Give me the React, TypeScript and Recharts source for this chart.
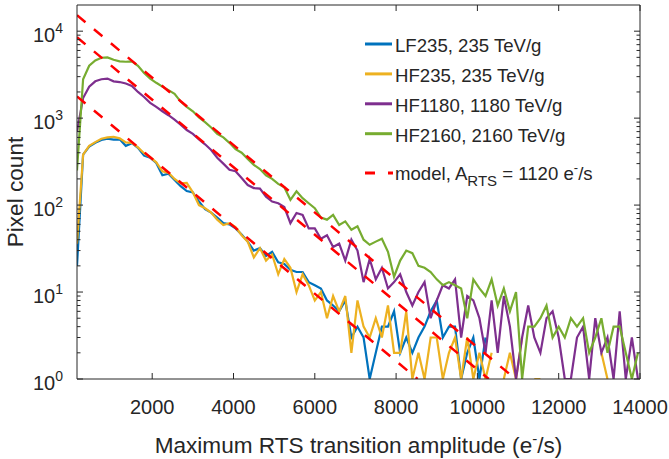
import React from 'react';
import { LineChart, Line, XAxis, YAxis } from 'recharts';

const W = 669;
const H = 459;
const AXIS = '#262626';
const FONT = '"Liberation Sans", Arial, Helvetica, sans-serif';

// histogram bin centres (e-/s)
const bins = [
  150, 300, 450, 600, 750, 900, 1050, 1200, 1350, 1500,
  1650, 1800, 1950, 2100, 2250, 2400, 2550, 2700, 2850, 3000,
  3150, 3300, 3450, 3600, 3750, 3900, 4050, 4200, 4350, 4500,
  4650, 4800, 4950, 5100, 5250, 5400, 5550, 5700, 5850, 6000,
  6150, 6300, 6450, 6600, 6750, 6900, 7050, 7200, 7350, 7500,
  7650, 7800, 7950, 8100, 8250, 8400, 8550, 8700, 8850, 9000,
  9150, 9300, 9450, 9600, 9750, 9900, 10050, 10200, 10350, 10500,
  10650, 10800, 10950, 11100, 11250, 11400, 11550, 11700, 11850, 12000,
  12150, 12300, 12450, 12600, 12750, 12900, 13050, 13200, 13350, 13500,
  13650, 13800, 13950,
];

// pixel counts (null = empty bin)
const lf235 = [
  20, 380, 470, 520, 560, 580, 565, 570, 480, 515,
  455, 370, 350, 305, 220, 230, 195, 165, 145, 140,
  110, 90, 82, 72, 62, 60, 54, 46, 38, 30,
  32, 26, 29, 22, 21, 18, 17, 17, 13, 12,
  11, 8, 7, 6, 8, 3, 4, 3, 1, 2,
  4, 4, 6, 2, 3, 2, 3, 4, 6, 8,
  3, 4, 4, 1, 2, 3, 1, 3, null, null,
  null, null, null, null, null, null, null, null, null, null,
  null, null, null, null, null, null, null, null, null, null,
  null, null, null,
];

const hf235 = [
  36, 380, 480, 530, 580, 600, 610, 585, 525, 520,
  460, 395, 355, 310, 245, 235, 200, 178, 180, 140,
  100, 92, 82, 68, 59, 62, 56, 45, 38, 25,
  32, 23, 27, 16, 24, 19, 10, 16, 12, 8,
  10, 5, 9, 6, 9, 2, 8, 4, 3, 5,
  3, 7, 2, 2, 6, 1, 2, 1, 3, 3,
  1, 2, 3, 1, 3, 1, 2, 1, 2, null,
  1, 2, 1, 3, null, 1, 1, null, null, null,
  null, null, null, null, null, null, 2, 1, null, null,
  null, null, null,
];

const hf1180 = [
  700, 1700, 2300, 2650, 2800, 2850, 2650, 2600, 2500, 2350,
  2000, 1750, 1500, 1350, 1200, 1080, 960, 840, 730, 660,
  570, 500, 430, 350, 300, 255, 245, 205, 170, 157,
  155, 125, 110, 105, 95, 62, 81, 77, 54, 54,
  41, 45, 33, 36, 23, 40, 30, 13, 24, 14,
  19, 11, 13, 16, 10, 7, 10, 13, 5, 8,
  12, 11, 14, 3, 9, 8, 5, 2, 8, 2,
  9, 4, 1, 3, 7, 3, 2, 5, 6, 3,
  1, 1, 3, 4, 1, 5, 2, 3, 1, 6,
  1, 3, 1,
];

const hf2160 = [
  250, 2800, 4000, 4600, 4950, 5000, 4700, 4500, 4450, 4500,
  4000, 3300, 2850, 2550, 2300, 2100, 1900, 1550, 1350, 1200,
  1020, 900, 780, 660, 600, 520, 440, 400, 340, 290,
  260, 220, 200, 175, 160, 115, 144, 120, 105, 92,
  72, 68, 77, 59, 65, 52, 57, 40, 35, 38,
  41, 29, 15, 23, 30, 28, 20, 19, 17, 14,
  12, 13, 12, 11, 5, 14, 11, 9, 14, 7,
  11, 6, 10, 1, 4, 4, 5, 7, 3, 4,
  3, 5, 4, 5, 2, 3, 5, 2, 4, 4,
  2, 1, 2,
];

// model lines (A_RTS = 1120 e-/s), start and end
const modelLow = [{ x: 150, y: 1775 }, { x: 8530, y: 1 }];
const modelMid = [{ x: 150, y: 8500 }, { x: 10280, y: 1 }];
const modelHigh = [{ x: 150, y: 15250 }, { x: 10940, y: 1 }];

const xTicks = [2000, 4000, 6000, 8000, 10000, 12000, 14000];
const decades = [1, 10, 100, 1000, 10000];
const yTicks = [
  1, 2, 3, 4, 5, 6, 7, 8, 9,
  10, 20, 30, 40, 50, 60, 70, 80, 90,
  100, 200, 300, 400, 500, 600, 700, 800, 900,
  1000, 2000, 3000, 4000, 5000, 6000, 7000, 8000, 9000,
  10000,
];

const rows = bins.map((x, i) => ({
  x,
  lf235: lf235[i],
  hf235: hf235[i],
  hf1180: hf1180[i],
  hf2160: hf2160[i],
}));

const legendItems = [
  { label: 'LF235, 235 TeV/g', color: '#0072BD' },
  { label: 'HF235, 235 TeV/g', color: '#EDB120' },
  { label: 'HF1180, 1180 TeV/g', color: '#7E2F8E' },
  { label: 'HF2160, 2160 TeV/g', color: '#77AC30' },
];

const BottomTick = (p: any) => (
  <g>
    <line x1={p.x} x2={p.x} y1={p.y} y2={p.y - 6} stroke={AXIS} strokeWidth={1} />
    <text x={p.x} y={p.y + 35} textAnchor="middle" fontSize={20} fill={AXIS} fontFamily={FONT}>
      {p.payload.value}
    </text>
  </g>
);

const TopTick = (p: any) => (
  <line x1={p.x} x2={p.x} y1={p.y} y2={p.y + 6} stroke={AXIS} strokeWidth={1} />
);

const LeftTick = (p: any) => {
  const v = p.payload.value;
  const major = decades.includes(v);
  return (
    <g>
      <line x1={p.x} x2={p.x + (major ? 6 : 3.5)} y1={p.y} y2={p.y} stroke={AXIS} strokeWidth={1} />
      {major && (
        <text y={p.y + 11} fontSize={20} fill={AXIS} fontFamily={FONT}>
          <tspan x={p.x - 44}>10</tspan>
          <tspan fontSize={14} dy={-8.7}>{Math.round(Math.log10(v))}</tspan>
        </text>
      )}
    </g>
  );
};

const RightTick = (p: any) => {
  const major = decades.includes(p.payload.value);
  return (
    <line x1={p.x} x2={p.x - (major ? 6 : 3.5)} y1={p.y} y2={p.y} stroke={AXIS} strokeWidth={1} />
  );
};

const dataLine = (key: string, color: string) => (
  <Line
    key={key}
    xAxisId="b"
    yAxisId="l"
    dataKey={key}
    type="linear"
    stroke={color}
    strokeWidth={2.2}
    dot={false}
    isAnimationActive={false}
  />
);

const modelLine = (name: string, data: { x: number; y: number }[]) => (
  <Line
    key={name}
    data={data}
    xAxisId="b"
    yAxisId="l"
    dataKey="y"
    type="linear"
    stroke="#FF0000"
    strokeWidth={2.5}
    strokeDasharray="11 11"
    dot={false}
    isAnimationActive={false}
  />
);

function Overlay() {
  return (
    <svg width={W} height={H} style={{ position: 'absolute', left: 0, top: 0, pointerEvents: 'none' }}>
      <g fontFamily={FONT} fill={AXIS}>
        {legendItems.map((it, i) => {
          const base = 52 + i * 29.9;
          return (
            <g key={it.label}>
              <line x1={365} x2={392} y1={base - 8} y2={base - 8} stroke={it.color} strokeWidth={3} />
              <text x={395} y={base} fontSize={18.6}>{it.label}</text>
            </g>
          );
        })}
        <line x1={365} x2={393} y1={173} y2={173} stroke="#FF0000" strokeWidth={3} strokeDasharray="10 13" />
        <text x={395} y={180} fontSize={18.6}>
          model, A
          <tspan fontSize={15} dy={6}>RTS</tspan>
          <tspan dy={-6}> = 1120 e</tspan>
          <tspan fontSize={13} dy={-8}>-</tspan>
          <tspan dy={8}>/s</tspan>
        </text>
        <text x={358.5} y={453} fontSize={22.6} textAnchor="middle">
          Maximum RTS transition amplitude (e
          <tspan fontSize={15} dy={-9}>-</tspan>
          <tspan dy={9}>/s)</tspan>
        </text>
        <text x={23} y={192} fontSize={22.6} textAnchor="middle" transform="rotate(-90 23 192)">
          Pixel count
        </text>
      </g>
    </svg>
  );
}

export default function App() {
  return (
    <div style={{ position: 'absolute', left: 0, top: 0, width: W, height: H, background: '#fff' }}>
      <LineChart width={W} height={H} data={rows} margin={{ top: 0, right: 0, bottom: 0, left: 0 }}>
        <XAxis
          xAxisId="b"
          dataKey="x"
          type="number"
          domain={[150, 14000]}
          allowDataOverflow
          ticks={xTicks}
          orientation="bottom"
          height={80}
          tickSize={0}
          tickMargin={0}
          tickLine={false}
          axisLine={{ stroke: AXIS }}
          tick={BottomTick}
          interval={0}
        />
        <XAxis
          xAxisId="t"
          dataKey="x"
          type="number"
          domain={[150, 14000]}
          allowDataOverflow
          ticks={xTicks}
          orientation="top"
          height={5}
          tickSize={0}
          tickMargin={0}
          tickLine={false}
          axisLine={{ stroke: AXIS }}
          tick={TopTick}
          interval={0}
        />
        <YAxis
          yAxisId="l"
          scale="log"
          type="number"
          domain={[1, 20000]}
          allowDataOverflow
          ticks={yTicks}
          width={77}
          tickSize={0}
          tickMargin={0}
          tickLine={false}
          axisLine={{ stroke: AXIS }}
          tick={LeftTick}
          interval={0}
        />
        <YAxis
          yAxisId="r"
          orientation="right"
          scale="log"
          type="number"
          domain={[1, 20000]}
          allowDataOverflow
          ticks={yTicks}
          width={29}
          tickSize={0}
          tickMargin={0}
          tickLine={false}
          axisLine={{ stroke: AXIS }}
          tick={RightTick}
          interval={0}
        />
        {dataLine('lf235', '#0072BD')}
        {dataLine('hf235', '#EDB120')}
        {dataLine('hf1180', '#7E2F8E')}
        {dataLine('hf2160', '#77AC30')}
        {modelLine('low', modelLow)}
        {modelLine('mid', modelMid)}
        {modelLine('high', modelHigh)}
      </LineChart>
      <Overlay />
    </div>
  );
}
